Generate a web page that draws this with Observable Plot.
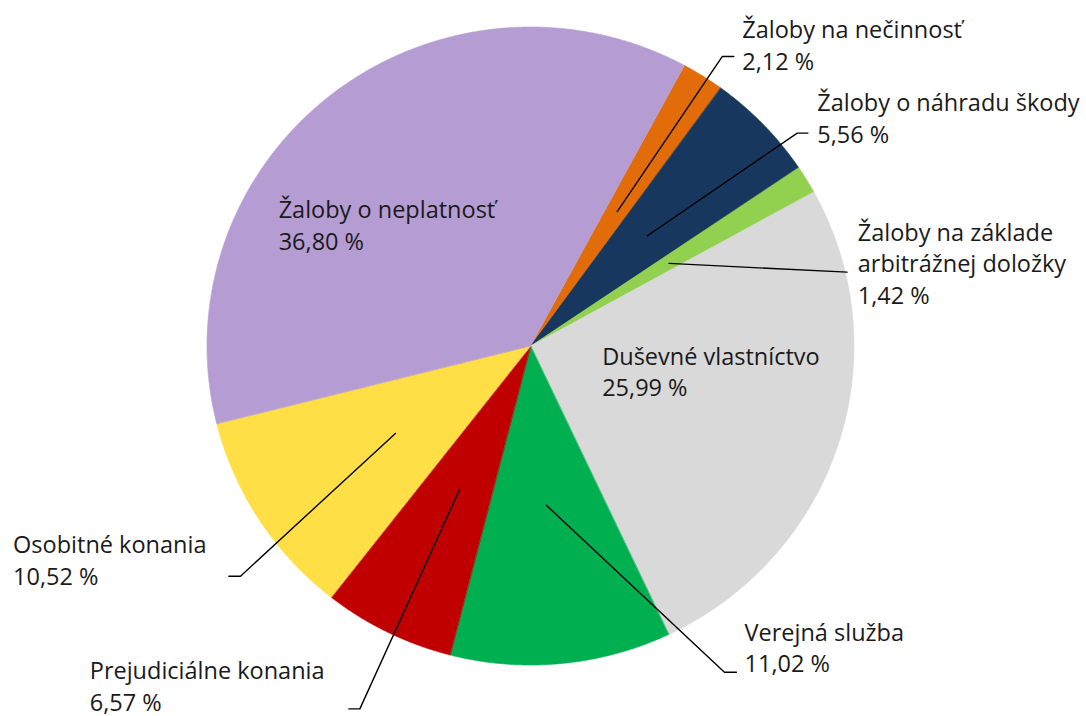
<!DOCTYPE html>
<html>
<head>
<meta charset="utf-8">
<script src="https://cdn.jsdelivr.net/npm/d3@7"></script>
<script src="https://cdn.jsdelivr.net/npm/@observablehq/plot@0.6"></script>
<style>
  html, body { margin: 0; padding: 0; background: #fff; }
  #chart svg { display: block; }
</style>
</head>
<body>
<div id="chart"></div>
<script>
// ---- data ----
const names = [
  "Žaloby na nečinnosť",
  "Žaloby o náhradu škody",
  "Žaloby na základe\narbitrážnej doložky",
  "Duševné vlastníctvo",
  "Verejná služba",
  "Prejudiciálne konania",
  "Osobitné konania",
  "Žaloby o neplatnosť"
];
const values = [2.12, 5.56, 1.42, 25.99, 11.02, 6.57, 10.52, 36.80];
const colors = ["#e36c0a", "#17375e", "#92d050", "#d9d9d9", "#00b050", "#c00000", "#ffdf45", "#b59dd4"];

// ---- layout (pie units: radius = 1, origin = pie centre) ----
const startDeg = 28.4;
// label anchor: left edge / first baseline; leader: [elbow, end] or null (label inside slice)
const labelLayout = [
  {lx: 0.653, ly: 0.966, leader: [[0.591, 0.909], [0.627, 0.909]]},
  {lx: 0.885, ly: 0.737, leader: [[0.823, 0.669], [0.856, 0.669]]},
  {lx: 1.010, ly: 0.332, leader: [[0.977, 0.233]]},
  {lx: 0.220, ly: -0.057, leader: null},
  {lx: 0.660, ly: -0.922, leader: [[0.598, -1.021], [0.635, -1.021]]},
  {lx: -1.364, ly: -1.043, leader: [[-0.529, -1.136], [-0.563, -1.136]]},
  {lx: -1.601, ly: -0.648, leader: [[-0.898, -0.720], [-0.934, -0.720]]},
  {lx: -0.780, ly: 0.402, leader: null}
];

const rows = names.map((name, i) => ({name, value: values[i], layout: labelLayout[i]}));

const a0 = startDeg * Math.PI / 180;
const arcs = d3.pie().value(d => d.value).sort(null).startAngle(a0).endAngle(a0 + 2 * Math.PI)(rows);

const wedgePts = arcs.flatMap(a => {
  const n = Math.max(2, Math.ceil((a.endAngle - a.startAngle) / 0.004));
  return d3.range(n + 1).map(i => {
    const t = a.startAngle + (a.endAngle - a.startAngle) * i / n;
    return {name: a.data.name, x: Math.sin(t), y: Math.cos(t)};
  });
});

const leaderPts = arcs.filter(a => a.data.layout.leader).flatMap(a => {
  const mid = (a.startAngle + a.endAngle) / 2;
  const pts = [[0.5 * Math.sin(mid), 0.5 * Math.cos(mid)], ...a.data.layout.leader];
  return pts.map(([x, y]) => ({name: a.data.name, x, y}));
});

const fmt = v => v.toFixed(2).replace(".", ",") + " %";
const labels = rows.map(d => ({x: d.layout.lx, y: d.layout.ly, text: d.name + "\n" + fmt(d.value)}));

const fontSize = 23.5;
const linePx = 31.7;
const lineHeight = linePx / fontSize;

const chart = Plot.plot({
  width: 1086,
  height: 716,
  margin: 0,
  style: {fontFamily: "'Open Sans', sans-serif", background: "#fff"},
  x: {domain: [-1, 1], range: [207, 854], axis: null},
  y: {domain: [-1, 1], range: [665, 27], axis: null},
  color: {domain: names, range: colors},
  marks: [
    Plot.area(wedgePts, {x1: "x", y1: "y", x2: 0, y2: 0, z: "name", fill: "name", stroke: "name", strokeWidth: 0.6}),
    Plot.line(leaderPts, {x: "x", y: "y", z: "name", stroke: "#000", strokeWidth: 1.4}),
    Plot.text(labels, {
      x: "x", y: "y", text: "text",
      textAnchor: "start", lineAnchor: "top", dy: -0.71 * linePx,
      fontSize, lineHeight, fill: "#1a1a1a",
      fontFamily: "'Open Sans', sans-serif"
    })
  ]
});
document.getElementById("chart").append(chart);
</script>
</body>
</html>
